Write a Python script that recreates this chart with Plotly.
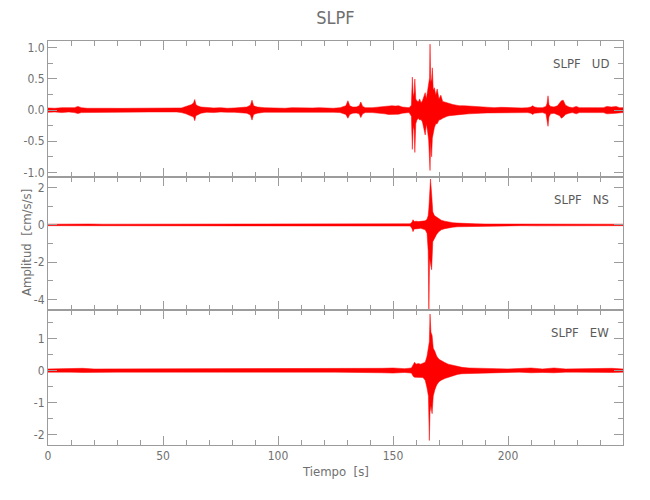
import plotly.graph_objects as go
from plotly.subplots import make_subplots

# ---------------- data ----------------
# envelope of each trace: time [s], upper and lower amplitude [cm/s/s]
ud_t = [0, 3, 6, 9, 11.5, 13, 14.5, 17, 20, 23, 26, 29, 32, 35, 38, 41, 44, 47, 50, 53, 56, 58,
        60, 61.5, 62.5, 63.3, 63.8, 64.3, 65, 66.5,
        69, 72, 75, 78, 81, 84, 86.5,
        88, 88.7, 89.4, 91,
        94, 97, 100, 103, 106, 109, 112, 115, 118, 121, 124, 127,
        129.5, 130.4, 131.2, 132.5, 134, 135.3, 136, 136.8, 138,
        141, 144, 146.5, 148, 149.5, 151, 152.5, 154, 155.5, 157,
        158, 158.4, 158.8, 159.2, 159.5, 159.9, 160.4, 161, 161.6, 162.2,
        162.8, 163.4, 164, 164.5, 165, 165.5, 165.9, 166.1, 166.4, 166.8,
        167.1, 167.5, 168, 168.6, 169.2, 170, 170.8, 171.6, 172.5, 173.5, 174.5, 176,
        177.5, 179, 181, 183, 185.5, 188, 191, 194, 197, 200, 203, 206, 208.5,
        210, 210.7, 211.5, 213, 215, 216.5, 217, 217.4, 217.8, 218.5, 220, 221.5, 222.5, 223.2, 224, 225, 226.5,
        228, 229.7, 231, 233, 236, 239, 241.5, 243, 245, 247, 248.5, 250]
ud_hi = [.035, .03, .04, .035, .04, .06, .04, .03, .035, .03, .03, .035, .028, .03, .03, .028, .03, .035, .03, .03, .035, .035,
         .06, .08, .09, .12, .17, .09, .07, .05,
         .04, .035, .04, .03, .035, .04, .05,
         .08, .16, .07, .05,
         .04, .035, .04, .03, .04, .035, .03, .035, .04, .035, .03, .04,
         .07, .15, .07, .05, .05, .07, .13, .06, .04,
         .04, .05, .06, .07, .07, .065, .07, .05, .04, .04,
         .08, .53, .22, .28, .5, .18, .15, .13, .18, .12,
         .15, .24, .28, .18, .28, .42, .52, 1.06, .45, .5,
         .68, .32, .36, .24, .34, .18, .24, .14, .13, .11, .1, .09,
         .08, .07, .07, .065, .06, .05, .05, .04, .045, .04, .04, .035, .04,
         .05, .07, .05, .04, .04, .06, .11, .23, .09, .06, .05, .07, .11, .15, .16, .08, .05,
         .04, .06, .04, .04, .035, .04, .04, .06, .05, .06, .04, .04]
ud_lo = [-.035, -.03, -.04, -.03, -.04, -.055, -.04, -.035, -.03, -.03, -.035, -.03, -.03, -.028, -.03, -.03, -.03, -.03, -.035, -.03, -.03, -.04,
         -.06, -.08, -.1, -.11, -.17, -.09, -.07, -.05,
         -.035, -.04, -.03, -.035, -.035, -.04, -.05,
         -.08, -.16, -.07, -.05,
         -.035, -.04, -.035, -.03, -.035, -.04, -.03, -.035, -.03, -.035, -.035, -.04,
         -.07, -.13, -.07, -.05, -.045, -.06, -.12, -.06, -.04,
         -.04, -.05, -.06, -.07, -.075, -.07, -.065, -.05, -.04, -.04,
         -.1, -.63, -.26, -.32, -.68, -.22, -.16, -.13, -.16, -.15,
         -.19, -.28, -.4, -.22, -.33, -.48, -.7, -.97, -.5, -.75,
         -.45, -.36, -.28, -.22, -.22, -.16, -.15, -.13, -.11, -.1, -.09, -.08,
         -.08, -.07, -.065, -.06, -.06, -.05, -.045, -.04, -.04, -.04, -.035, -.04, -.04,
         -.05, -.07, -.05, -.04, -.04, -.06, -.13, -.26, -.11, -.06, -.05, -.07, -.09, -.13, -.11, -.07, -.05,
         -.04, -.06, -.04, -.035, -.04, -.04, -.04, -.06, -.055, -.05, -.04, -.04]

ns_t = [0, 6, 12, 18, 24, 30, 36, 42, 48, 54, 60, 66, 72, 78, 84, 90, 96, 102, 108, 114, 120, 126, 132, 138, 144, 150, 155,
        157.5, 158.3, 158.7, 159.2, 160, 161, 162, 163, 164, 164.8,
        165.3, 165.6, 165.9, 166.3, 166.8, 167.3, 168, 169, 170, 171,
        172.5, 174, 176, 178, 180, 183, 186,
        190, 195, 200, 206, 212, 218, 224, 230, 236, 242, 250]
ns_hi = [.04, .05, .04, .05, .04, .04, .05, .04, .04, .05, .05, .04, .04, .05, .04, .05, .04, .04, .05, .04, .05, .04, .04, .06, .05, .06, .06,
         .06, .15, .28, .18, .2, .18, .18, .2, .22, .3,
         .5, .9, 1.5, 2.46, 1.66, .7, .5, .4, .32, .25,
         .2, .16, .12, .1, .08, .07, .06,
         .05, .05, .04, .05, .06, .05, .05, .04, .05, .05, .04]
ns_lo = [-.04, -.05, -.04, -.04, -.05, -.04, -.04, -.05, -.04, -.04, -.05, -.04, -.05, -.04, -.04, -.05, -.04, -.05, -.04, -.04, -.05, -.04, -.05, -.05, -.06, -.06, -.06,
         -.06, -.2, -.36, -.22, -.2, -.2, -.18, -.22, -.26, -.45,
         -1.4, -4.85, -1.8, -2.0, -2.4, -.9, -.7, -.5, -.35, -.26,
         -.2, -.16, -.12, -.1, -.08, -.07, -.06,
         -.05, -.04, -.05, -.04, -.05, -.05, -.04, -.05, -.04, -.05, -.04]

ew_t = [0, 5, 10, 15, 20, 25, 30, 35, 40, 45, 50, 55, 60, 65, 70, 75, 80, 85, 90, 95,
        100, 105, 110, 115, 120, 125, 130, 135, 140, 145, 150, 155,
        158, 158.8, 159.4, 160, 161, 162, 163, 164, 164.8, 165.4,
        165.8, 166.1, 166.5, 167, 167.5, 168.2, 169, 170, 171, 172.5,
        174, 176, 178, 180, 183, 186,
        190, 195, 200, 205, 210, 215, 220, 225, 230, 235, 240, 245, 250]
ew_hi = [.05, .06, .05, .07, .05, .05, .06, .05, .05, .06, .05, .05, .06, .05, .05, .06, .05, .05, .06, .05,
         .05, .06, .05, .05, .05, .06, .05, .06, .06, .07, .08, .06,
         .08, .18, .26, .2, .22, .2, .22, .26, .45, .7,
         .9, 1.77, 1.2, 1.1, .7, .6, .45, .35, .3, .25,
         .2, .16, .12, .1, .08, .07,
         .06, .06, .05, .06, .08, .05, .08, .05, .06, .05, .06, .07, .05]
ew_lo = [-.05, -.06, -.05, -.06, -.05, -.06, -.05, -.05, -.06, -.05, -.05, -.06, -.05, -.05, -.06, -.05, -.05, -.06, -.05, -.05,
         -.06, -.05, -.05, -.06, -.05, -.05, -.06, -.05, -.06, -.07, -.08, -.06,
         -.08, -.18, -.21, -.22, -.2, -.22, -.22, -.3, -.55, -.8,
         -2.19, -1.3, -1.1, -1.35, -.8, -.6, -.45, -.35, -.3, -.25,
         -.2, -.16, -.12, -.1, -.08, -.07,
         -.06, -.05, -.06, -.05, -.07, -.06, -.07, -.05, -.05, -.06, -.05, -.06, -.05]

components = ["UD", "NS", "EW"]
station = "SLPF"
x_ticks = [0, 50, 100, 150, 200]
x_ticktext = ["0", "50", "100", "150", "200"]
ud_ticks = [-1.0, -0.5, 0.0, 0.5, 1.0]
ud_ticktext = ["-1.0", "-0.5", "0.0", "0.5", "1.0"]
ns_ticks = [-4, -2, 0, 2]
ns_ticktext = ["-4", "-2", "0", "2"]
ew_ticks = [-2, -1, 0, 1]
ew_ticktext = ["-2", "-1", "0", "1"]

for a, b, c in [(ud_t, ud_hi, ud_lo), (ns_t, ns_hi, ns_lo), (ew_t, ew_hi, ew_lo)]:
    assert len(a) == len(b) == len(c), (len(a), len(b), len(c))

# ---------------- figure ----------------
FONT = "Liberation Sans Narrow, DejaVu Sans Condensed, Roboto Condensed, sans-serif"
AX = "#9c9c9c"
TXT = "#707070"
RED = "#ff0000"

fig = make_subplots(rows=3, cols=1, vertical_spacing=0)

traces = [(ud_t, ud_hi, ud_lo), (ns_t, ns_hi, ns_lo), (ew_t, ew_hi, ew_lo)]
for i, (t, hi, lo) in enumerate(traces, start=1):
    fig.add_trace(go.Scatter(
        x=list(t) + list(t)[::-1], y=list(hi) + list(lo)[::-1],
        mode="lines", fill="toself", fillcolor=RED,
        line=dict(color=RED, width=0.5), hoverinfo="skip", showlegend=False),
        row=i, col=1)

domains = [[0.664, 1.0], [0.333, 0.664], [0.0, 0.333]]
yranges = [[-1.07, 1.11], [-4.58, 2.58], [-2.33, 1.88]]
yticks = [(ud_ticks, ud_ticktext, 0.25), (ns_ticks, ns_ticktext, 1), (ew_ticks, ew_ticktext, 0.5)]

for i in range(3):
    xa = "xaxis" if i == 0 else f"xaxis{i+1}"
    ya = "yaxis" if i == 0 else f"yaxis{i+1}"
    fig.layout[xa].update(
        range=[0, 250], showline=True, linecolor=AX, linewidth=1, mirror="allticks",
        ticks="inside", ticklen=9, tickcolor=AX, tickwidth=1,
        tickvals=x_ticks, ticktext=x_ticktext, automargin=False,
        minor=dict(ticks="inside", ticklen=5, tickcolor=AX, dtick=10, tick0=0, showgrid=False),
        showgrid=False, zeroline=False, showticklabels=(i == 2),
        tickfont=dict(family=FONT, size=12, color=TXT), fixedrange=True)
    tv, tt, mdt = yticks[i]
    fig.layout[ya].update(
        domain=domains[i], range=yranges[i], showline=True, linecolor=AX, linewidth=1,
        mirror="allticks", ticks="inside", ticklen=9, tickcolor=AX, tickwidth=1,
        tickvals=tv, ticktext=tt, automargin=False,
        minor=dict(ticks="inside", ticklen=5, tickcolor=AX, dtick=mdt, tick0=0, showgrid=False),
        showgrid=False, zeroline=False,
        tickfont=dict(family=FONT, size=12, color=TXT), fixedrange=True)

annotations = []
for i, comp in enumerate(components):
    yref = "y domain" if i == 0 else f"y{i+1} domain"
    xref = "x domain" if i == 0 else f"x{i+1} domain"
    annotations.append(dict(
        text=f"{station}\u00a0\u00a0\u00a0{comp}", xref=xref, yref=yref, x=(611 - 48) / 575.5, y=1,
        xanchor="right", yanchor="top", yshift=-13, showarrow=False,
        font=dict(family=FONT, size=13, color="#5a5a5a")))

annotations.append(dict(text="Amplitud\u00a0\u00a0[cm/s/s]", xref="paper", yref="paper",
                        x=0, y=0.5, xshift=-22, xanchor="center", yanchor="middle",
                        textangle=-90, showarrow=False,
                        font=dict(family=FONT, size=13, color=TXT)))
annotations.append(dict(text="Tiempo\u00a0\u00a0[s]", xref="paper", yref="paper",
                        x=0.5, y=0, yshift=-26, xanchor="center", yanchor="middle",
                        showarrow=False, font=dict(family=FONT, size=13, color=TXT)))

fig.update_layout(
    width=650, height=500,
    margin=dict(l=40, r=34.5, t=32.5, b=63, autoexpand=False),
    paper_bgcolor="white", plot_bgcolor="white",
    title=dict(text=station, x=0.5, xref="paper", xanchor="center",
               y=1.0, yref="container", yanchor="top", pad=dict(t=3),
               font=dict(family=FONT, size=18, color=TXT)),
    annotations=annotations,
    showlegend=False,
)

fig.write_html("out.html")
